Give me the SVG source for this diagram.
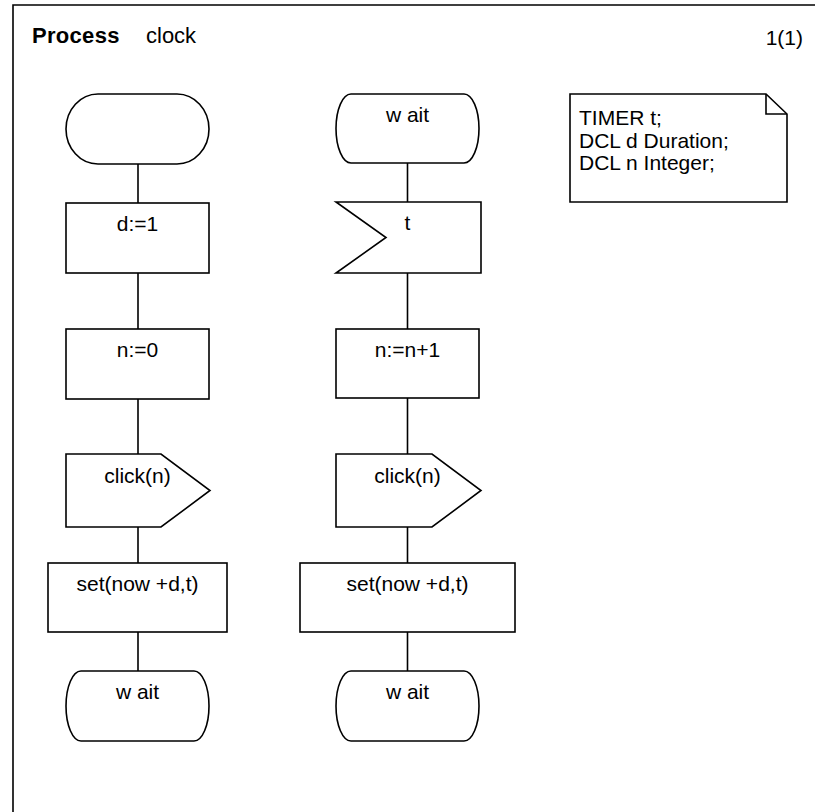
<svg xmlns="http://www.w3.org/2000/svg" width="819" height="812" viewBox="0 0 819 812">
  <style>
    .shape { fill: #ffffff; stroke: #000000; stroke-width: 1.6; stroke-linejoin: miter; }
    .line { fill: none; stroke: #000000; stroke-width: 1.6; }
    .frame { fill: none; stroke: #000000; stroke-width: 1.6; }
    text { font-family: "Liberation Sans", Arial, sans-serif; font-size: 21px; fill: #000000; }
    .c { text-anchor: middle; }
    .title { font-size: 22px; }
    .bold { font-weight: bold; letter-spacing: 0.3px; }
  </style>
  <rect width="819" height="812" fill="#ffffff"/>

  <!-- diagram frame -->
  <g id="frame">
    <path class="frame" d="M13,812 V5 H815"/>
    <text class="title bold" x="32" y="43">Process</text>
    <text class="title" x="146" y="43">clock</text>
    <text x="803" y="45" text-anchor="end">1(1)</text>
  </g>

  <!-- connectors -->
  <g id="connectors">
    <path class="line" d="M138,164 V203 M138,273 V329 M138,399 V454 M138,527 V563 M138,632 V671"/>
    <path class="line" d="M407.5,163 V202 M407.5,273 V329 M407.5,398 V454 M407.5,527 V563 M407.5,632 V671"/>
  </g>

  <!-- left column: start transition -->
  <g id="start">
    <path class="shape" d="M98,94 H177 A32,35 0 0 1 177,164 H98 A32,35 0 0 1 98,94 Z"/>
  </g>
  <g id="task-d">
    <rect class="shape" x="66" y="203" width="143" height="70"/>
    <text class="c" x="137.5" y="231">d:=1</text>
  </g>
  <g id="task-n">
    <rect class="shape" x="66" y="329" width="143" height="70"/>
    <text class="c" x="137.5" y="357">n:=0</text>
  </g>
  <g id="output-click-1">
    <path class="shape" d="M66,454 H161 L210,490.5 L161,527 H66 Z"/>
    <text class="c" x="137.5" y="483">click(n)</text>
  </g>
  <g id="set-1">
    <rect class="shape" x="48" y="563" width="179" height="69"/>
    <text class="c" x="137.5" y="591">set(now +d,t)</text>
  </g>
  <g id="wait-1">
    <path class="shape" d="M81,671 H194 A15,35 0 0 1 194,741 H81 A15,35 0 0 1 81,671 Z"/>
    <text class="c" x="137.5" y="699">w ait</text>
  </g>

  <!-- right column: wait state, timer input -->
  <g id="state-wait">
    <path class="shape" d="M351,94 H464 A15,34.5 0 0 1 464,163 H351 A15,34.5 0 0 1 351,94 Z"/>
    <text class="c" x="407.5" y="122">w ait</text>
  </g>
  <g id="input-t">
    <path class="shape" d="M336,202 H481 V273 H336 L386,237.5 Z"/>
    <text class="c" x="407.5" y="230">t</text>
  </g>
  <g id="task-inc">
    <rect class="shape" x="336" y="329" width="143" height="69"/>
    <text class="c" x="407.5" y="357">n:=n+1</text>
  </g>
  <g id="output-click-2">
    <path class="shape" d="M336,454 H432 L481,490.5 L432,527 H336 Z"/>
    <text class="c" x="407.5" y="483">click(n)</text>
  </g>
  <g id="set-2">
    <rect class="shape" x="300" y="563" width="215" height="69"/>
    <text class="c" x="407.5" y="591">set(now +d,t)</text>
  </g>
  <g id="wait-2">
    <path class="shape" d="M351,671 H464 A15,35 0 0 1 464,741 H351 A15,35 0 0 1 351,671 Z"/>
    <text class="c" x="407.5" y="699">w ait</text>
  </g>

  <!-- declarations text symbol -->
  <g id="declarations">
    <path class="shape" d="M570,94 H766 L787,114 V202 H570 Z"/>
    <path class="line" d="M766,94 V114 H787"/>
    <text x="579" y="125">TIMER t;</text>
    <text x="579" y="148">DCL d Duration;</text>
    <text x="579" y="170">DCL n Integer;</text>
  </g>
</svg>
